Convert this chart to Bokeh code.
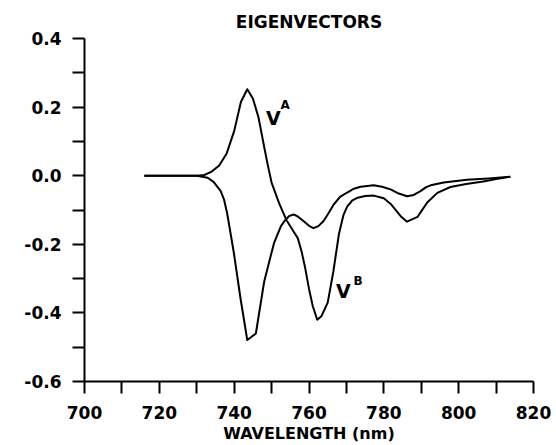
from bokeh.plotting import figure
from bokeh.models import FixedTicker
from bokeh.core.properties import value
from bokeh.embed import file_html
from bokeh.resources import INLINE

# ---- data ----
wl_a = [716, 720, 725, 730, 732, 734, 736, 738, 740, 741.8, 743.5, 745, 746.5, 748,
        749, 750, 752, 754, 756, 757, 758, 759, 760, 761, 762.2, 763.3, 765, 766.5, 768,
        769.2, 770.2, 771.5, 773, 775, 777.3, 780, 782, 784.5, 786.2, 789, 791.6, 794.3, 797.8, 802,
        806.6, 810, 813.8]
v_a = [0.0, 0.0, 0.0, 0.0, 0.002, 0.012, 0.03, 0.065, 0.13, 0.215, 0.252, 0.225, 0.17, 0.085,
       0.03, -0.02, -0.08, -0.13, -0.165, -0.182, -0.22, -0.27, -0.33, -0.38, -0.42, -0.41, -0.37, -0.28, -0.17,
       -0.115, -0.09, -0.073, -0.064, -0.059, -0.058, -0.066, -0.084, -0.118, -0.134, -0.12, -0.078, -0.05,
       -0.033, -0.024, -0.017, -0.01, -0.003]

wl_b = [716, 720, 725, 730, 732.9, 734.5, 736.4, 737.3, 738.1, 739.9, 741.7, 743.5, 745.8, 748,
        749.5, 750.7, 752.5, 753.8, 754.8, 755.9, 757, 758.5, 760, 761.2, 762.5, 763.9, 765.3, 766.6,
        768.3, 770.2, 772, 773.8, 777.3, 779.5, 781.8, 784, 786.2, 788, 789.8, 791.2, 792.5, 796, 802.2,
        808, 813.8]
v_b = [0.0, 0.0, 0.0, 0.0, -0.006, -0.018, -0.045, -0.07, -0.108, -0.224, -0.358, -0.479, -0.46, -0.31,
       -0.245, -0.195, -0.147, -0.127, -0.117, -0.113, -0.119, -0.132, -0.146, -0.153, -0.147, -0.132,
       -0.108, -0.084, -0.062, -0.049, -0.038, -0.032, -0.028, -0.032, -0.04, -0.052, -0.06, -0.056,
       -0.045, -0.034, -0.028, -0.02, -0.012, -0.008, -0.003]

x_major = [700, 720, 740, 760, 780, 800, 820]
x_minor = [710, 730, 750, 770, 790, 810]
y_major = [-0.6, -0.4, -0.2, 0.0, 0.2, 0.4]
y_minor = [-0.5, -0.3, -0.1, 0.1, 0.3]
y_labels = {-0.6: "-0.6", -0.4: "-0.4", -0.2: "-0.2", 0.0: "0.0", 0.2: "0.2", 0.4: "0.4"}

label_main = ["V", "V"]
label_sup = ["A", "B"]
label_x = [750.5, 769.2]
label_y = [0.168, -0.335]
sup_x = [753.6, 773.1]
sup_y = [0.205, -0.306]

FONT = "DejaVu Sans"

p = figure(width=556, height=445, x_range=(700, 820), y_range=(-0.6, 0.4),
           output_backend="svg", toolbar_location=None,
           min_border_left=84, min_border_right=23, min_border_top=38, min_border_bottom=61)
p.outline_line_color = None
p.xgrid.visible = False
p.ygrid.visible = False

p.title.text = "EIGENVECTORS"
p.title.align = "center"
p.title.text_font = FONT
p.title.text_font_size = "17px"
p.title.text_font_style = "bold"
p.title.text_color = "black"
p.title.standoff = 14

for ax in (p.xaxis[0], p.yaxis[0]):
    ax.axis_line_width = 2
    ax.major_tick_line_width = 2
    ax.minor_tick_line_width = 2
    ax.major_tick_in = 0
    ax.minor_tick_in = 0
    ax.major_tick_out = 12
    ax.minor_tick_out = 12
    ax.major_label_text_font = FONT
    ax.major_label_text_font_size = "17px"
    ax.major_label_text_font_style = "bold"
    ax.major_label_text_color = "black"

p.xaxis[0].ticker = FixedTicker(ticks=x_major, minor_ticks=x_minor)
p.yaxis[0].ticker = FixedTicker(ticks=y_major, minor_ticks=y_minor)
p.yaxis[0].major_label_overrides = y_labels
p.xaxis[0].major_label_standoff = 12
p.yaxis[0].major_label_standoff = 11
p.xaxis[0].axis_label = "WAVELENGTH (nm)"
p.xaxis[0].axis_label_text_font = FONT
p.xaxis[0].axis_label_text_font_size = "16px"
p.xaxis[0].axis_label_text_font_style = "bold"
p.xaxis[0].axis_label_text_color = "black"
p.xaxis[0].axis_label_standoff = 2

p.line(wl_a, v_a, line_color="black", line_width=2, line_join="round")
p.line(wl_b, v_b, line_color="black", line_width=2, line_join="round")

p.text(x=label_x, y=label_y, text=label_main, text_font=value(FONT),
       text_font_size="19px", text_font_style="bold", text_align="center",
       text_baseline="middle", text_color="black")
p.text(x=sup_x, y=sup_y, text=label_sup, text_font=value(FONT),
       text_font_size="12px", text_font_style="bold", text_align="center",
       text_baseline="middle", text_color="black")

open("out.html", "w").write(file_html(p, INLINE))
